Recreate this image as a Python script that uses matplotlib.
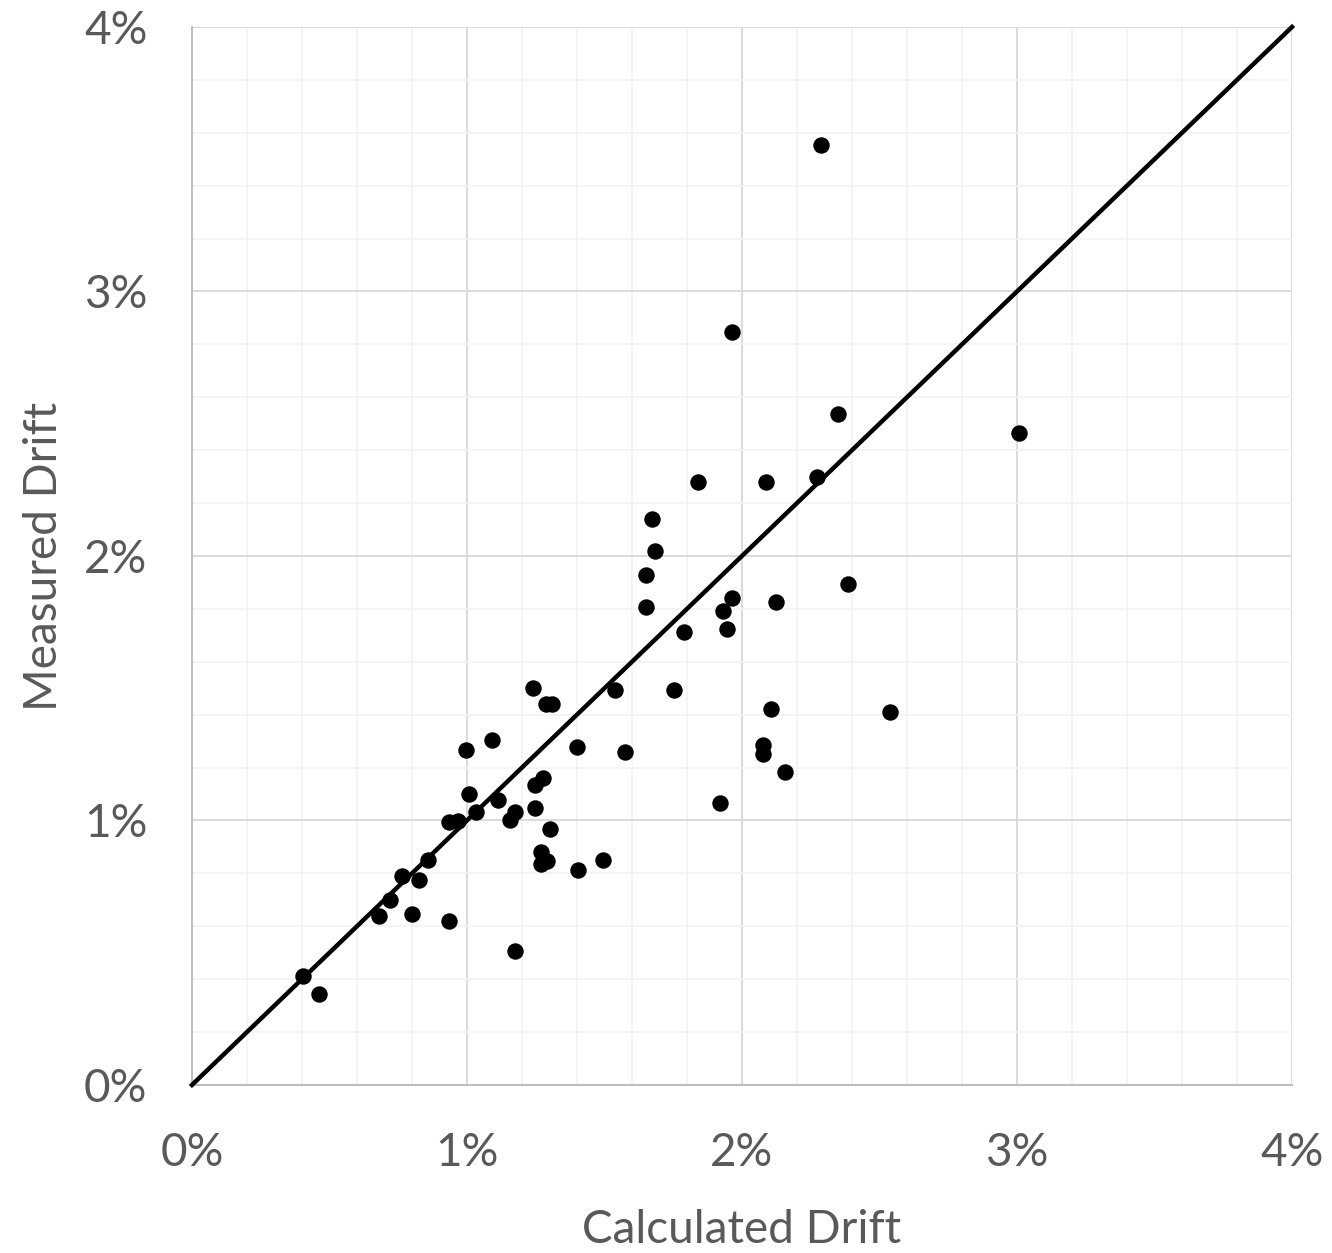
import matplotlib
matplotlib.use("Agg")
import matplotlib.pyplot as plt
import numpy as np
from matplotlib.ticker import MultipleLocator, FuncFormatter

calc = [0.404, 0.462, 0.680, 0.720, 0.764, 0.800, 0.825, 0.858, 0.935, 0.935,
        0.967, 0.996, 1.007, 1.033, 1.091, 1.113, 1.156, 1.175, 1.175, 1.240,
        1.247, 1.247, 1.276, 1.269, 1.269, 1.291, 1.302, 1.287, 1.309, 1.400,
        1.404, 1.495, 1.538, 1.575, 1.651, 1.651, 1.673, 1.684, 1.753, 1.789,
        1.840, 1.920, 1.931, 1.945, 1.964, 1.964, 2.076, 2.076, 2.087, 2.105,
        2.124, 2.156, 2.273, 2.287, 2.349, 2.385, 2.538, 3.007]
meas = [0.412, 0.344, 0.639, 0.699, 0.790, 0.647, 0.775, 0.851, 0.994, 0.620,
        0.998, 1.267, 1.100, 1.032, 1.304, 1.078, 1.002, 1.032, 0.507, 1.501,
        1.134, 1.047, 1.161, 0.881, 0.836, 0.847, 0.968, 1.440, 1.440, 1.278,
        0.813, 0.851, 1.493, 1.259, 1.807, 1.928, 2.140, 2.019, 1.493, 1.713,
        2.280, 1.066, 1.792, 1.724, 1.841, 2.847, 1.285, 1.251, 2.280, 1.422,
        1.826, 1.183, 2.299, 3.554, 2.537, 1.894, 1.410, 2.465]
ref_line = [0.0, 4.0]
x_label = "Calculated Drift"
y_label = "Measured Drift"

plt.rcParams['font.family'] = ['Lato', 'DejaVu Sans']
fig = plt.figure(figsize=(13.32, 12.53), dpi=100)
ax = fig.add_axes([0.1441, 0.1341, 0.8259, 0.8444])

ax.set_xlim(0, 4)
ax.set_ylim(0, 4)
ax.xaxis.set_major_locator(MultipleLocator(1))
ax.yaxis.set_major_locator(MultipleLocator(1))
ax.xaxis.set_minor_locator(MultipleLocator(0.2))
ax.yaxis.set_minor_locator(MultipleLocator(0.2))
ax.grid(which='minor', color='#f2f2f2', linewidth=1.2, zorder=0)
ax.grid(which='major', color='#d9d9d9', linewidth=1.3, zorder=0)
ax.set_axisbelow(True)
fmt = FuncFormatter(lambda v, p: f"{v:.0f}%")
ax.xaxis.set_major_formatter(fmt)
ax.yaxis.set_major_formatter(fmt)
ax.tick_params(which='both', length=0, labelsize=33, colors='#595959')
ax.tick_params(axis='x', pad=34)
ax.tick_params(axis='y', pad=32)
for s in ['top', 'right']:
    ax.spines[s].set_visible(False)
for s in ['left', 'bottom']:
    ax.spines[s].set_color('#bfbfbf')
    ax.spines[s].set_linewidth(1.5)

ax.plot(ref_line, ref_line, color='black', linewidth=3.2, zorder=3, clip_on=False)
ax.scatter(calc, meas, s=140, color='black', zorder=4, linewidths=0)

ax.set_xlabel(x_label, fontsize=33, color='#595959', labelpad=25)
ax.set_ylabel(y_label, fontsize=33, color='#595959', labelpad=14)

fig.savefig("out.png", dpi=100, facecolor='white')
